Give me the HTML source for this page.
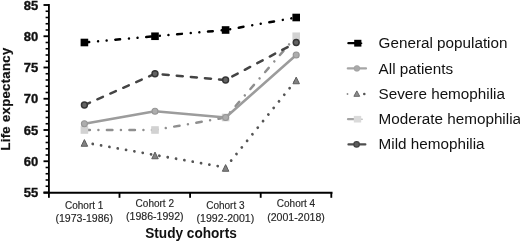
<!DOCTYPE html>
<html><head><meta charset="utf-8"><title>Life expectancy by study cohort</title>
<style>
html,body{margin:0;padding:0;background:#fff;}
body{width:520px;height:241px;overflow:hidden;position:relative;font-family:"Liberation Sans",sans-serif;}
svg text{font-family:"Liberation Sans",sans-serif;}
</style></head><body>
<svg width="520" height="241" viewBox="0 0 520 241" style="position:absolute;left:0;top:0;filter:blur(0.45px)">
<g stroke="#000" stroke-width="1.85" fill="none" stroke-linecap="butt">
<path d="M48.90 4.00 V193.70"/>
<path d="M43.50 192.70 H332.50"/>
<path d="M43.50 192.50 H48.90"/>
<path d="M45.60 186.25 H48.90" stroke-width="1.6"/>
<path d="M45.60 180.00 H48.90" stroke-width="1.6"/>
<path d="M45.60 173.75 H48.90" stroke-width="1.6"/>
<path d="M45.60 167.50 H48.90" stroke-width="1.6"/>
<path d="M43.50 161.25 H48.90"/>
<path d="M45.60 155.00 H48.90" stroke-width="1.6"/>
<path d="M45.60 148.75 H48.90" stroke-width="1.6"/>
<path d="M45.60 142.50 H48.90" stroke-width="1.6"/>
<path d="M45.60 136.25 H48.90" stroke-width="1.6"/>
<path d="M43.50 130.00 H48.90"/>
<path d="M45.60 123.75 H48.90" stroke-width="1.6"/>
<path d="M45.60 117.50 H48.90" stroke-width="1.6"/>
<path d="M45.60 111.25 H48.90" stroke-width="1.6"/>
<path d="M45.60 105.00 H48.90" stroke-width="1.6"/>
<path d="M43.50 98.75 H48.90"/>
<path d="M45.60 92.50 H48.90" stroke-width="1.6"/>
<path d="M45.60 86.25 H48.90" stroke-width="1.6"/>
<path d="M45.60 80.00 H48.90" stroke-width="1.6"/>
<path d="M45.60 73.75 H48.90" stroke-width="1.6"/>
<path d="M43.50 67.50 H48.90"/>
<path d="M45.60 61.25 H48.90" stroke-width="1.6"/>
<path d="M45.60 55.00 H48.90" stroke-width="1.6"/>
<path d="M45.60 48.75 H48.90" stroke-width="1.6"/>
<path d="M45.60 42.50 H48.90" stroke-width="1.6"/>
<path d="M43.50 36.25 H48.90"/>
<path d="M45.60 30.00 H48.90" stroke-width="1.6"/>
<path d="M45.60 23.75 H48.90" stroke-width="1.6"/>
<path d="M45.60 17.50 H48.90" stroke-width="1.6"/>
<path d="M45.60 11.25 H48.90" stroke-width="1.6"/>
<path d="M43.50 5.00 H48.90"/>
<path d="M48.90 192.70 V197.80"/>
<path d="M119.50 192.70 V197.80"/>
<path d="M190.10 192.70 V197.80"/>
<path d="M260.70 192.70 V197.80"/>
<path d="M331.30 192.70 V197.80"/>
</g>
<g font-family="Liberation Sans, sans-serif" font-weight="bold" font-size="13.0" fill="#111" stroke="#111" stroke-width="0.35" text-anchor="end">
<text x="38.3" y="197.20">55</text>
<text x="38.3" y="165.95">60</text>
<text x="38.3" y="134.70">65</text>
<text x="38.3" y="103.45">70</text>
<text x="38.3" y="72.20">75</text>
<text x="38.3" y="40.95">80</text>
<text x="38.3" y="9.70">85</text>
</g>
<text transform="translate(10.1,150.6) rotate(-90)" font-family="Liberation Sans, sans-serif" font-weight="bold" font-size="13.1" fill="#111" stroke="#111" stroke-width="0.2" textLength="102.8" lengthAdjust="spacing">Life expectancy</text>
<text x="145.2" y="238.0" font-family="Liberation Sans, sans-serif" font-weight="bold" font-size="14" fill="#111" textLength="91.6" lengthAdjust="spacingAndGlyphs">Study cohorts</text>
<g font-family="Liberation Sans, sans-serif" font-size="10.0" fill="#262626" stroke="#262626" stroke-width="0.15">
<text x="65.00" y="209.40" textLength="38.4" lengthAdjust="spacingAndGlyphs">Cohort 1</text>
<text x="55.40" y="222.00" textLength="57.6" lengthAdjust="spacingAndGlyphs">(1973-1986)</text>
<text x="135.60" y="207.00" textLength="38.4" lengthAdjust="spacingAndGlyphs">Cohort 2</text>
<text x="126.00" y="220.00" textLength="57.6" lengthAdjust="spacingAndGlyphs">(1986-1992)</text>
<text x="206.20" y="209.00" textLength="38.4" lengthAdjust="spacingAndGlyphs">Cohort 3</text>
<text x="196.60" y="222.00" textLength="57.6" lengthAdjust="spacingAndGlyphs">(1992-2001)</text>
<text x="276.80" y="207.40" textLength="38.4" lengthAdjust="spacingAndGlyphs">Cohort 4</text>
<text x="267.20" y="220.70" textLength="57.6" lengthAdjust="spacingAndGlyphs">(2001-2018)</text>
</g>
<polyline points="84.40,42.50 155.00,36.25 225.60,30.00 296.20,17.50" fill="none" stroke="#000" stroke-width="2.50" stroke-linecap="round" stroke-dasharray="4.8 8.9 0.01 8.6 0.01 8.7"/>
<rect x="80.60" y="38.70" width="7.60" height="7.60" fill="#000"/>
<rect x="151.20" y="32.45" width="7.60" height="7.60" fill="#000"/>
<rect x="221.80" y="26.20" width="7.60" height="7.60" fill="#000"/>
<rect x="292.40" y="13.70" width="7.60" height="7.60" fill="#000"/>
<polyline points="84.40,142.50 155.00,155.00 225.60,167.50 296.20,80.00" fill="none" stroke="#555" stroke-width="2.8" stroke-linecap="round" stroke-dasharray="0.01 8.45"/>
<path d="M84.40 139.60 L87.65 146.25 L81.15 146.25 Z" fill="#828282" stroke="#5c5c5c" stroke-width="1" stroke-linejoin="miter"/>
<path d="M155.00 152.10 L158.25 158.75 L151.75 158.75 Z" fill="#828282" stroke="#5c5c5c" stroke-width="1" stroke-linejoin="miter"/>
<path d="M225.60 164.60 L228.85 171.25 L222.35 171.25 Z" fill="#828282" stroke="#5c5c5c" stroke-width="1" stroke-linejoin="miter"/>
<path d="M296.20 77.10 L299.45 83.75 L292.95 83.75 Z" fill="#828282" stroke="#5c5c5c" stroke-width="1" stroke-linejoin="miter"/>
<polyline points="84.40,130.00 155.00,130.00 225.60,117.50 296.20,36.25" fill="none" stroke="#8f8f8f" stroke-width="2.50" stroke-linecap="round" stroke-dasharray="5.5 8.5 0.01 8.5"/>
<rect x="80.60" y="126.20" width="7.60" height="7.60" fill="#d2d2d2"/>
<rect x="151.20" y="126.20" width="7.60" height="7.60" fill="#d2d2d2"/>
<rect x="221.80" y="113.70" width="7.60" height="7.60" fill="#d2d2d2"/>
<rect x="292.40" y="32.45" width="7.60" height="7.60" fill="#d2d2d2"/>
<polyline points="84.40,105.00 155.00,73.75 225.60,80.00 296.20,42.50" fill="none" stroke="#444" stroke-width="2.50" stroke-linecap="round" stroke-dasharray="6.1 8.05"/>
<circle cx="84.40" cy="105.00" r="2.95" fill="#636363" stroke="#363636" stroke-width="1.50"/>
<circle cx="155.00" cy="73.75" r="2.95" fill="#636363" stroke="#363636" stroke-width="1.50"/>
<circle cx="225.60" cy="80.00" r="2.95" fill="#636363" stroke="#363636" stroke-width="1.50"/>
<circle cx="296.20" cy="42.50" r="2.95" fill="#636363" stroke="#363636" stroke-width="1.50"/>
<polyline points="84.40,123.75 155.00,111.25 225.60,117.50 296.20,55.00" fill="none" stroke="#9c9c9c" stroke-width="2.50" stroke-linecap="round" stroke-linejoin="round"/>
<circle cx="84.40" cy="123.75" r="3.00" fill="#adadad" stroke="#969696" stroke-width="1.10"/>
<circle cx="155.00" cy="111.25" r="3.00" fill="#adadad" stroke="#969696" stroke-width="1.10"/>
<circle cx="225.60" cy="117.50" r="3.00" fill="#adadad" stroke="#969696" stroke-width="1.10"/>
<circle cx="296.20" cy="55.00" r="3.00" fill="#adadad" stroke="#969696" stroke-width="1.10"/>
<g font-family="Liberation Sans, sans-serif" font-size="15.25" fill="#111">
<text x="378.6" y="48.00">General population</text>
<text x="378.6" y="73.50">All patients</text>
<text x="378.6" y="99.00">Severe hemophilia</text>
<text x="378.6" y="124.00">Moderate hemophilia</text>
<text x="378.6" y="149.00">Mild hemophilia</text>
</g>
<path d="M348.4 43.20 H357" stroke="#000" stroke-width="2.3" stroke-linecap="round" fill="none"/>
<path d="M357 43.20 H361.6" stroke="#000" stroke-width="1.6" stroke-linecap="round" fill="none"/>
<rect x="354.20" y="39.80" width="7.20" height="6.80" fill="#000"/>
<path d="M347.8 68.40 H366" stroke="#a6a6a6" stroke-width="2.2" stroke-linecap="round" fill="none"/>
<circle cx="356.90" cy="68.40" r="2.90" fill="#a9a9a9" stroke="#9c9c9c" stroke-width="0.60"/>
<circle cx="347.5" cy="94.00" r="0.9" fill="#8a8a8a"/>
<circle cx="364.3" cy="94.00" r="1.3" fill="#555"/>
<path d="M356.8 90.9 L359.7 96.3 L353.9 96.3 Z" fill="#8c8c8c" stroke="#666" stroke-width="1" stroke-linejoin="miter"/>
<path d="M348.0 119.20 H357" stroke="#a4a4a4" stroke-width="2.2" stroke-linecap="round" fill="none"/>
<path d="M357 119.20 H362.2" stroke="#c4c4c4" stroke-width="1.6" stroke-linecap="round" fill="none"/>
<rect x="353.80" y="115.90" width="7.40" height="6.60" fill="#dadada"/>
<path d="M348.4 144.40 H365.4" stroke="#4e4e4e" stroke-width="2.1" stroke-linecap="round" fill="none"/>
<circle cx="356.60" cy="144.40" r="2.70" fill="#5c5c5c" stroke="#424242" stroke-width="1.20"/>
</svg>
</body></html>
